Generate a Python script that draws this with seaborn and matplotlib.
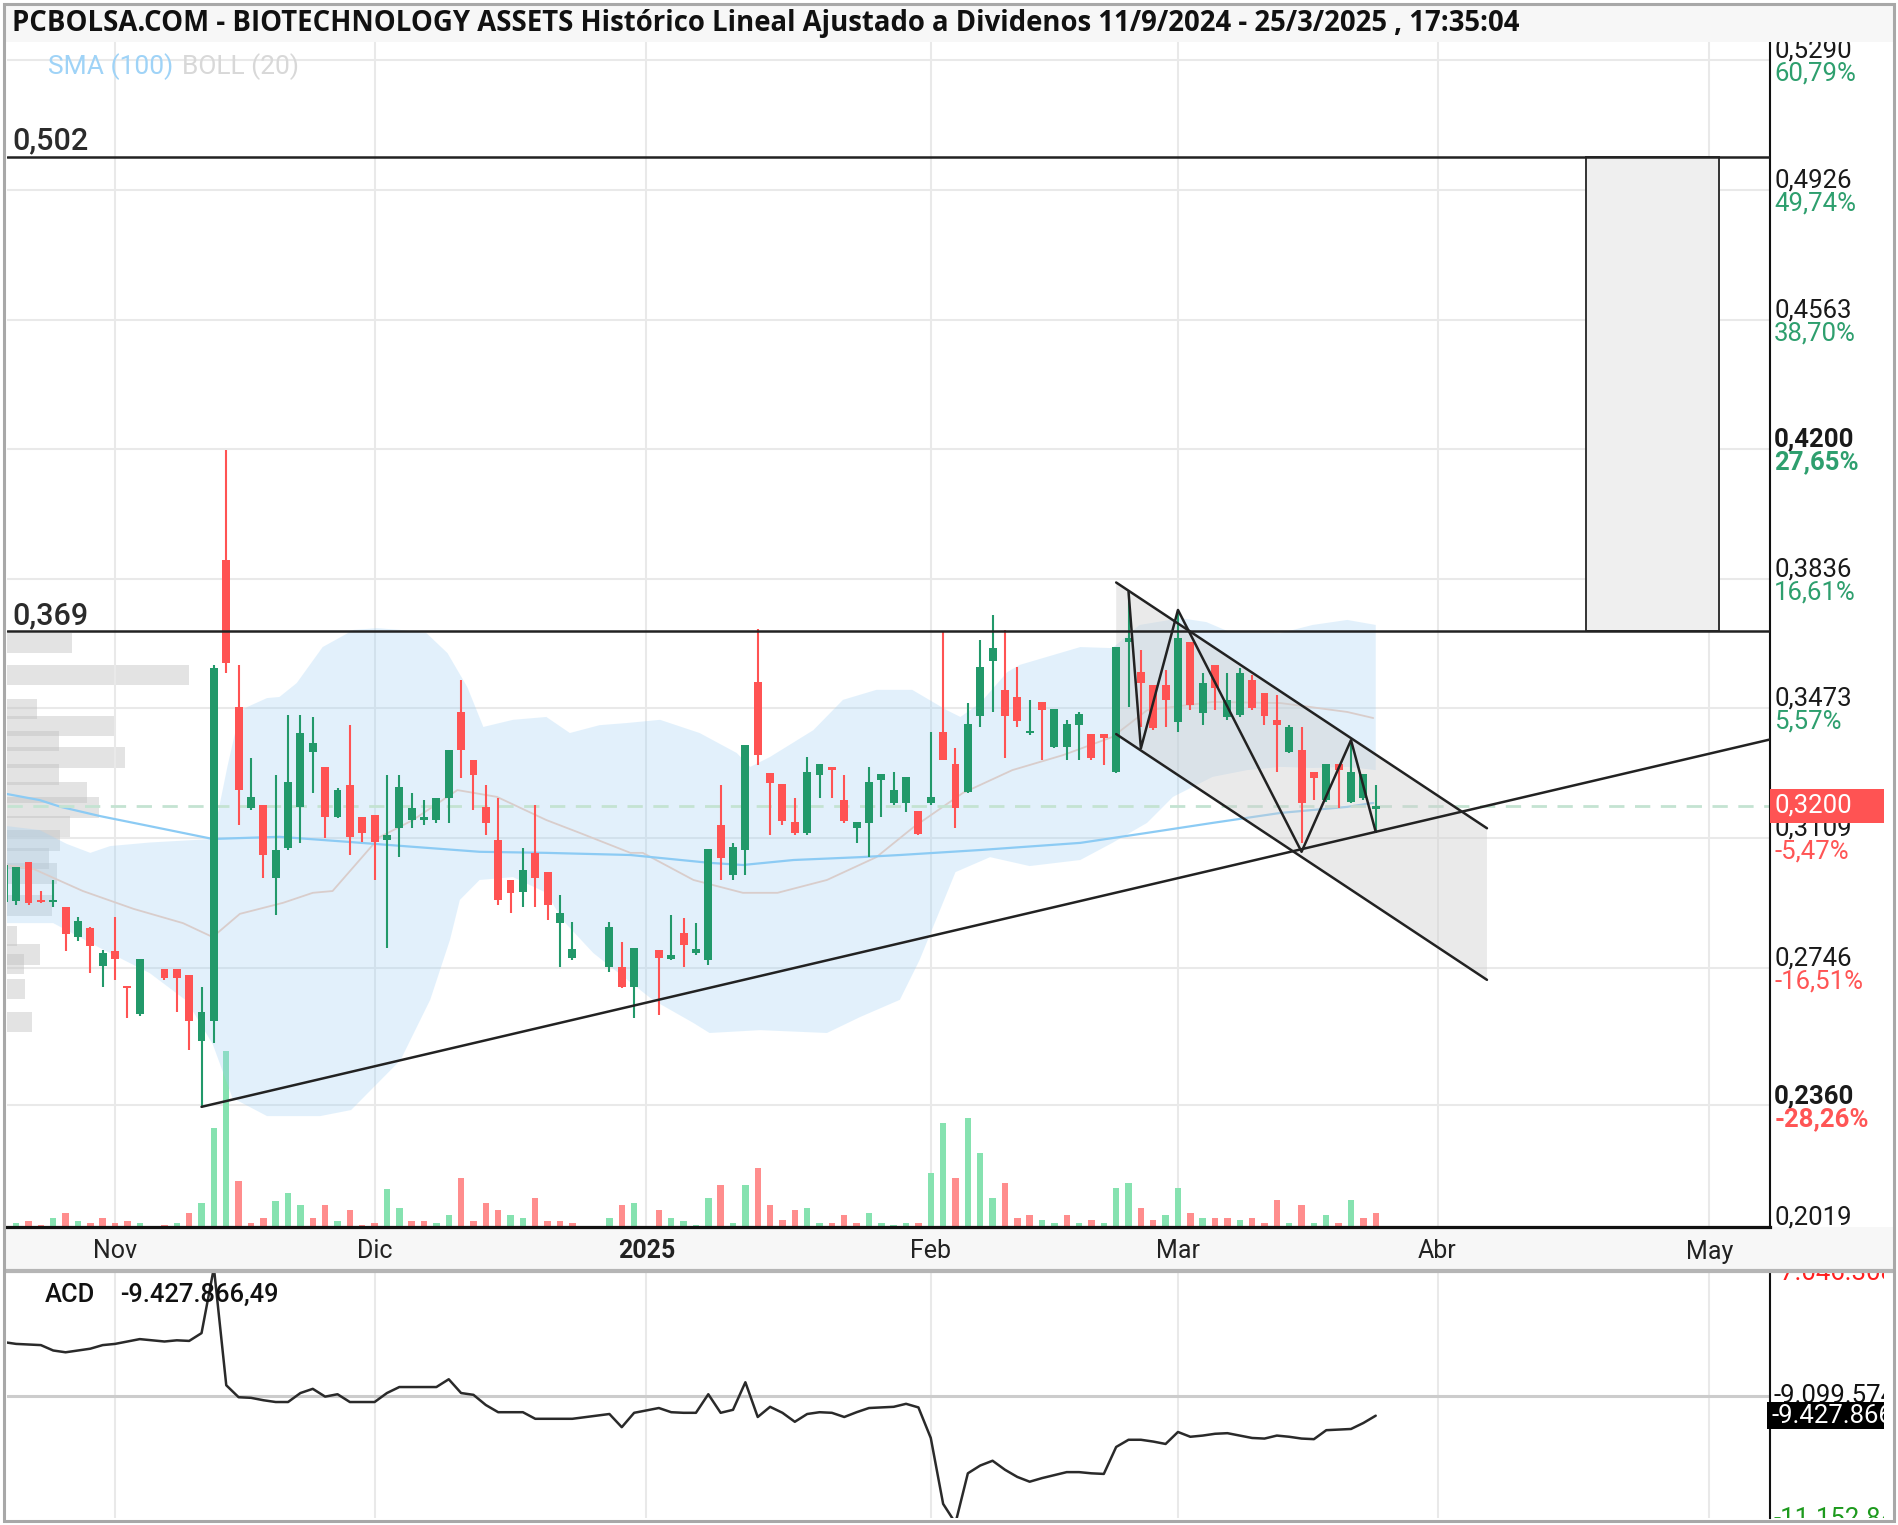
import numpy as np
import pandas as pd
import matplotlib
matplotlib.use("Agg")
import matplotlib.pyplot as plt
import seaborn as sns
from matplotlib.patches import Rectangle
from matplotlib.lines import Line2D
import matplotlib.transforms as mtransforms

# ------------------------------------------------------------------ data
ORIGIN = "2024-10-22"                      # weekday-slot origin of the x axis
no_trade = ["2024-11-06", "2024-12-25", "2024-12-26", "2025-01-01"]
dates = pd.bdate_range("2024-10-21", "2025-03-25")
dates = dates[~dates.isin(pd.to_datetime(no_trade))]

open_ = [0.2930, 0.2933, 0.3042, 0.2935, 0.2930, 0.2916, 0.2832, 0.2857, 0.2751,
         0.2793, 0.2692, 0.2616, 0.2742, 0.2742,
         0.2726, 0.2541, 0.2596, 0.3889, 0.3477,
         0.3193, 0.3202, 0.2997, 0.3081, 0.3197,
         0.3351, 0.3309, 0.3169, 0.3258, 0.3169,
         0.3174, 0.3104, 0.3137, 0.3160, 0.3160,
         0.3160, 0.3221, 0.3463, 0.3328, 0.3197,
         0.3104, 0.2992, 0.2959, 0.3067, 0.3015,
         0.2871, 0.2773, 0.2749, 0.2749, 0.2693,
         0.2797, 0.2771,
         0.2842, 0.2788, 0.2767, 0.3146, 0.3006,
         0.3076, 0.3548, 0.3293, 0.3261, 0.3155,
         0.3123, 0.3286, 0.3309, 0.3216, 0.3137,
         0.3151, 0.3272, 0.3207, 0.3207, 0.3186,
         0.3207, 0.3408, 0.3317, 0.3239, 0.3451,
         0.3607, 0.3526, 0.3506, 0.3403, 0.3492,
         0.3365, 0.3365, 0.3426, 0.3401, 0.3401,
         0.3296, 0.3660, 0.3576, 0.3538, 0.3538,
         0.3435, 0.3660, 0.3459, 0.3594, 0.3450,
         0.3454, 0.3552, 0.3517, 0.3440, 0.3351,
         0.3356, 0.3295, 0.3216, 0.3317, 0.3211,
         0.3221, 0.3190]
close_ = [0.3034, 0.3027, 0.2927, 0.2930, 0.2935, 0.2841, 0.2877, 0.2807, 0.2787,
          0.2771, 0.2689, 0.2771, 0.2717, 0.2717,
          0.2596, 0.2622, 0.3587, 0.3600, 0.3244,
          0.3225, 0.3062, 0.3076, 0.3267, 0.3404,
          0.3376, 0.3169, 0.3244, 0.3113, 0.3123,
          0.3099, 0.3118, 0.3254, 0.3193, 0.3169,
          0.3221, 0.3356, 0.3356, 0.3286, 0.3151,
          0.2936, 0.2955, 0.3020, 0.2997, 0.2921,
          0.2899, 0.2798, 0.2861, 0.2693, 0.2800,
          0.2772, 0.2781,
          0.2809, 0.2798, 0.3078, 0.3053, 0.3085,
          0.3370, 0.3342, 0.3265, 0.3158, 0.3123,
          0.3295, 0.3317, 0.3300, 0.3158, 0.3155,
          0.3267, 0.3289, 0.3244, 0.3281, 0.3120,
          0.3225, 0.3328, 0.3193, 0.3429, 0.3590,
          0.3641, 0.3451, 0.3438, 0.3408, 0.3468,
          0.3470, 0.3429, 0.3457, 0.3333, 0.3389,
          0.3646, 0.3669, 0.3543, 0.3417, 0.3496,
          0.3669, 0.3482, 0.3545, 0.3529, 0.3496,
          0.3571, 0.3473, 0.3451, 0.3426, 0.3422,
          0.3207, 0.3277, 0.3317, 0.3300, 0.3295,
          0.3289, 0.3200]
high_ = [0.3040, 0.3028, 0.3042, 0.2961, 0.2992, 0.2916, 0.2887, 0.2860, 0.2796,
         0.2887, 0.2692, 0.2771, 0.2742, 0.2742,
         0.2726, 0.2692, 0.3594, 0.4197, 0.3594,
         0.3334, 0.3202, 0.3286, 0.3454, 0.3454,
         0.3449, 0.3309, 0.3250, 0.3426, 0.3169,
         0.3174, 0.3286, 0.3286, 0.3236, 0.3216,
         0.3221, 0.3356, 0.3552, 0.3328, 0.3258,
         0.3221, 0.2992, 0.3081, 0.3202, 0.3015,
         0.2950, 0.2875, 0.2875, 0.2819, 0.2800,
         0.2797, 0.2894,
         0.2884, 0.2870, 0.3078, 0.3258, 0.3095,
         0.3370, 0.3697, 0.3293, 0.3261, 0.3221,
         0.3337, 0.3317, 0.3309, 0.3286, 0.3155,
         0.3309, 0.3289, 0.3295, 0.3281, 0.3186,
         0.3408, 0.3688, 0.3361, 0.3489, 0.3664,
         0.3735, 0.3692, 0.3588, 0.3496, 0.3492,
         0.3470, 0.3440, 0.3463, 0.3401, 0.3401,
         0.3646, 0.3795, 0.3636, 0.3538, 0.3580,
         0.3749, 0.3660, 0.3571, 0.3594, 0.3571,
         0.3585, 0.3566, 0.3517, 0.3510, 0.3426,
         0.3422, 0.3295, 0.3317, 0.3317, 0.3384,
         0.3289, 0.3258]
low_ = [0.2925, 0.2921, 0.2921, 0.2927, 0.2916, 0.2793, 0.2822, 0.2731, 0.2692,
        0.2711, 0.2606, 0.2610, 0.2712, 0.2622,
        0.2516, 0.2356, 0.2536, 0.3572, 0.3146,
        0.3188, 0.2997, 0.2893, 0.3076, 0.3095,
        0.3236, 0.3109, 0.3165, 0.3062, 0.3099,
        0.2992, 0.2801, 0.3057, 0.3137, 0.3146,
        0.3151, 0.3151, 0.3278, 0.3188, 0.3118,
        0.2922, 0.2899, 0.2917, 0.2917, 0.2880,
        0.2748, 0.2767, 0.2735, 0.2688, 0.2604,
        0.2613, 0.2767,
        0.2749, 0.2781, 0.2753, 0.2992, 0.2992,
        0.3006, 0.3313, 0.3118, 0.3146, 0.3118,
        0.3118, 0.3221, 0.3223, 0.3151, 0.3095,
        0.3057, 0.3169, 0.3202, 0.3183, 0.3118,
        0.3202, 0.3328, 0.3137, 0.3235, 0.3421,
        0.3463, 0.3333, 0.3420, 0.3398, 0.3328,
        0.3361, 0.3328, 0.3328, 0.3328, 0.3313,
        0.3291, 0.3478, 0.3421, 0.3412, 0.3421,
        0.3408, 0.3468, 0.3426, 0.3468, 0.3440,
        0.3450, 0.3468, 0.3426, 0.3295, 0.3349,
        0.3095, 0.3216, 0.3211, 0.3193, 0.3207,
        0.3216, 0.3123]
# volume (thousands of shares) and direction of the volume bar (1 = up)
volume = [0, 40, 60, 20, 86, 140, 60, 40, 86,
          40, 60, 40, 20, 40,
          140, 240, 990, 1760, 460,
          40, 86, 260, 340, 217,
          86, 217, 60, 167, 20,
          40, 380, 190, 60, 60,
          40, 117, 490, 60, 240,
          167, 117, 86, 290, 60,
          60, 40, 86, 217, 240,
          167, 86,
          60, 20, 290, 417, 43,
          417, 590, 217, 67, 167,
          190, 43, 43, 117, 43,
          143, 43, 20, 43, 43,
          540, 1040, 493, 1090, 740,
          290, 440, 90, 117, 67,
          43, 117, 43, 67, 43,
          390, 440, 190, 67, 117,
          390, 143, 90, 90, 90,
          67, 90, 43, 267, 43,
          217, 43, 117, 43, 267,
          90, 143]
vol_up = [1, 1, 0, 0, 1, 0, 1, 0, 0,
          0, 0, 1, 0, 1,
          0, 1, 1, 1, 0,
          0, 0, 1, 1, 1,
          0, 0, 1, 0, 0,
          0, 1, 1, 0, 0,
          1, 1, 0, 0, 0,
          0, 1, 1, 0, 0,
          0, 0, 1, 0, 1,
          0, 1,
          1, 1, 1, 0, 1,
          1, 0, 0, 0, 0,
          1, 1, 0, 0, 0,
          1, 1, 1, 1, 0,
          1, 1, 0, 1, 1,
          1, 0, 0, 0, 1,
          1, 0, 1, 0, 1,
          1, 1, 0, 0, 1,
          1, 0, 1, 0, 0,
          1, 0, 0, 0, 1,
          0, 1, 1, 0, 1,
          0, 0]
# ACD indicator (millions)
acd = [-8.20, -8.23, -8.24, -8.25, -8.34, -8.37, -8.34, -8.31, -8.25,
       -8.23, -8.19, -8.15, -8.19, -8.17,
       -8.18, -8.05, -6.96, -8.92, -9.12,
       -9.13, -9.17, -9.20, -9.20, -9.05,
       -8.98, -9.11, -9.07, -9.20, -9.20,
       -9.20, -9.05, -8.95, -8.95, -8.95,
       -8.95, -8.82, -9.05, -9.08, -9.25,
       -9.37, -9.37, -9.37, -9.48, -9.48,
       -9.48, -9.48, -9.40, -9.62, -9.38,
       -9.30, -9.37,
       -9.38, -9.38, -9.07, -9.38, -9.33,
       -8.87, -9.45, -9.28, -9.38, -9.53,
       -9.40, -9.37, -9.38, -9.45, -9.37,
       -9.30, -9.29, -9.28, -9.23, -9.29,
       -9.80, -10.90, -11.22, -10.39, -10.26,
       -10.18, -10.33, -10.45, -10.53, -10.47,
       -10.42, -10.37, -10.37, -10.39, -10.40,
       -9.95, -9.83, -9.83, -9.86, -9.90,
       -9.70, -9.78, -9.76, -9.73, -9.72,
       -9.76, -9.80, -9.81, -9.76, -9.78,
       -9.81, -9.82, -9.67, -9.66, -9.65,
       -9.55, -9.428]

# Bollinger (20) bands and mid line, SMA(100)  (x in weekday slots)
bb_up_x = [-0.74, 1.9, 4.1, 6.0, 7.6, 10.8, 15.9, 17.1, 18.1, 18.7, 20.3, 21.3, 22.7, 24.8,
           27.3, 29.2, 31.1, 33.2, 34.9, 36.5, 37.8, 40.2, 42.9, 44.8, 47.2, 49.4, 52.1,
           55.3, 58.3, 59.4, 61.0, 64.5, 66.9, 69.6, 72.5, 75.3, 76.4, 78.0, 80.2, 81.2,
           86.1, 88.7, 90.9, 94.2, 96.3, 98.2, 102.3, 104.9, 107.7, 110.0]
bb_up = [0.3143, 0.3132, 0.3093, 0.3068, 0.3087, 0.3097, 0.3107, 0.3311, 0.3463, 0.3477,
         0.3502, 0.3505, 0.3544, 0.3645, 0.3693, 0.3698, 0.3693, 0.3684, 0.3628, 0.3533,
         0.3421, 0.3441, 0.3449, 0.3404, 0.3426, 0.3432, 0.3441, 0.3404, 0.3348, 0.3309,
         0.3337, 0.3412, 0.3497, 0.3525, 0.3525, 0.3468, 0.3449, 0.3488, 0.3575, 0.3595,
         0.3645, 0.3642, 0.3707, 0.3726, 0.3715, 0.3687, 0.3684, 0.3707, 0.3721, 0.3707]
bb_lo_x = [-0.74, 3.0, 6.8, 10.8, 13.8, 15.9, 17.5, 20.3, 24.6, 27.1, 31.1, 33.5, 35.1, 35.9,
           37.5, 40.2, 42.9, 44.2, 46.7, 51.5, 54.8, 56.1, 60.2, 65.6, 68.3, 71.5, 73.1,
           76.0, 78.8, 82.0, 86.1, 88.7, 91.5, 93.6, 96.8, 99.6, 102.3, 104.9, 107.7, 110.0]
bb_lo = [0.2871, 0.2871, 0.2801, 0.2731, 0.2653, 0.2532, 0.2381, 0.2330, 0.2330, 0.2347,
         0.2487, 0.2656, 0.2824, 0.2936, 0.2992, 0.3000, 0.2956, 0.2880, 0.2787, 0.2656,
         0.2591, 0.2563, 0.2571, 0.2563, 0.2608, 0.2656, 0.2768, 0.3014, 0.3056, 0.3031,
         0.3048, 0.3096, 0.3152, 0.3225, 0.3281, 0.3300, 0.3309, 0.3306, 0.3309, 0.3300]
bb_mid_x = [-0.74, 1.4, 5.4, 9.5, 13.5, 15.9, 18.1, 21.6, 24.0, 25.6, 29.4, 32.1, 35.7, 38.9,
            42.9, 45.6, 49.7, 50.7, 54.8, 58.8, 61.6, 65.6, 69.6, 72.6, 76.6, 80.6, 84.7,
            88.7, 91.5, 96.8, 102.3, 107.7, 109.8]
bb_mid = [0.3033, 0.3023, 0.2961, 0.2911, 0.2871, 0.2832, 0.2897, 0.2928, 0.2956, 0.2961,
          0.3112, 0.3160, 0.3244, 0.3225, 0.3160, 0.3124, 0.3068, 0.3068, 0.2992, 0.2956,
          0.2956, 0.2992, 0.3056, 0.3140, 0.3236, 0.3300, 0.3342, 0.3393, 0.3468, 0.3491,
          0.3488, 0.3463, 0.3446]
sma100_x = [-0.74, 1.9, 3.6, 6.8, 10.8, 15.9, 21.3, 26.8, 32.1, 37.5, 42.9, 49.7, 56.1, 58.8,
            62.9, 68.3, 71.5, 78.0, 86.1, 91.5, 96.8, 102.3, 107.7, 109.8]
sma100 = [0.3233, 0.3216, 0.3197, 0.3171, 0.3143, 0.3107, 0.3113, 0.3099, 0.3085, 0.3071,
          0.3068, 0.3062, 0.3040, 0.3034, 0.3048, 0.3056, 0.3062, 0.3076, 0.3096, 0.3124,
          0.3152, 0.3180, 0.3197, 0.3208]

# volume-by-price profile
prof_price = [0.3656, 0.3567, 0.3471, 0.3424, 0.3382, 0.3336, 0.3287, 0.3237, 0.3195, 0.3142,
              0.3102, 0.3052, 0.3011, 0.2920, 0.2835, 0.2784, 0.2756, 0.2686, 0.2594]
prof_vol = [65, 182, 30, 108, 52, 118, 52, 80, 92, 63, 53, 42, 50, 45, 10, 33, 17, 18, 25]

# price-axis labels
axis_vals = [0.5290, 0.4926, 0.4563, 0.4200, 0.3836, 0.3473, 0.3109, 0.2746, 0.2360, 0.2019]
axis_pct = ["60,79%", "49,74%", "38,70%", "27,65%", "16,61%", "5,57%", "-5,47%", "-16,51%",
            "-28,26%", ""]
axis_bold = [False, False, False, True, False, False, False, False, True, False]
last_price = 0.3200

month_starts = ["2024-11-01", "2024-12-01", "2025-01-01", "2025-02-01", "2025-03-01",
                "2025-04-01", "2025-05-01"]
month_labels = ["Nov", "Dic", "2025", "Feb", "Mar", "Abr", "May"]

# drawings
levels = [0.502, 0.369]
support = [("2024-11-12", 0.2356), ("2025-03-25", 0.3127)]
chan_x = [89, 119]
chan_upper = [0.3826, 0.3137]
chan_lower = [0.3401, 0.2712]
zig_x = [90, 91, 94, 104, 108, 110]
zig_y = [0.3800, 0.3361, 0.3749, 0.3071, 0.3384, 0.3127]
target_x = [127, 137.75]
target_y = [0.369, 0.502]

acd_axis = [-7.0462, -9.0995, -11.1528]
acd_axis_txt = ["-7.046.308", "-9.099.574", "-11.152.840"]
acd_last = -9.427866

TITLE = ("PCBOLSA.COM - BIOTECHNOLOGY ASSETS Histórico Lineal Ajustado a Dividenos "
         "11/9/2024 - 25/3/2025 , 17:35:04")

# ------------------------------------------------------------------ style
sns.set_theme(style="white")
plt.rcParams["font.family"] = ["Roboto", "DejaVu Sans"]

GREEN, RED = "#22996a", "#ff5353"
VGREEN, VRED = "#86e2b0", "#ff8d8d"
W, H = 1898, 1525
LAB = 18.5


def fbox(x0, y0, x1, y1):
    return [x0 / W, 1 - y1 / H, (x1 - x0) / W, (y1 - y0) / H]


def dec(v, n=4):
    return f"{v:.{n}f}".replace(".", ",")


fig = plt.figure(figsize=(W / 100, H / 100), dpi=100)
fig.patch.set_facecolor("white")

MAIN = (7, 42, 1770, 1227)
ACDP = (7, 1272, 1770, 1518)
XLIM = (-0.74, 141.9)
YLIM = (0.20191, 0.53413)

ax_main = fig.add_axes(fbox(*MAIN))
ax_vol = fig.add_axes(fbox(*MAIN), sharex=ax_main)
ax_prof = fig.add_axes(fbox(*MAIN), sharey=ax_main)
ax_prof.set_zorder(1)
ax_vol.set_zorder(2)
ax_main.set_zorder(3)
ax_main.patch.set_visible(False)
ax_vol.patch.set_visible(False)
ax_prof.patch.set_facecolor("white")

x = np.busday_count(ORIGIN, dates.values.astype("datetime64[D]"))
ticks = np.busday_count(ORIGIN, np.array(month_starts, dtype="datetime64[D]"))
o, c, h, l = map(np.array, (open_, close_, high_, low_))
assert len(o) == len(c) == len(h) == len(l) == len(x) == len(volume) == len(vol_up) == len(acd)

ax_main.set_xlim(*XLIM)
ax_main.set_ylim(*YLIM)

# -- background layer: horizontal grid + volume profile
for v in axis_vals:
    ax_prof.axhline(v, color="#e9e9e9", lw=1.5, zorder=0)
ax_prof.barh(prof_price, prof_vol, height=0.0058, left=0, color="#bdbdbd", alpha=0.42,
             linewidth=0, zorder=1)
ax_prof.set_xlim(0, max(prof_vol) / 0.1032)
ax_prof.axis("off")

# -- volume layer
for t in ticks:
    ax_vol.axvline(t, color="#e9e9e9", lw=1.5, zorder=0)
vcol = np.where(np.array(vol_up) == 1, VGREEN, VRED)
ax_vol.bar(x, volume, width=0.52, color=vcol, linewidth=0, zorder=2)
ax_vol.set_ylim(0, max(volume) / 0.1483)
ax_vol.axis("off")

# -- main layer
ax_main.fill(np.r_[bb_up_x, bb_lo_x[::-1]], np.r_[bb_up, bb_lo[::-1]],
             color="#9fd0f5", alpha=0.30, lw=0, zorder=1)
sns.lineplot(x=bb_mid_x, y=bb_mid, ax=ax_main, color="#d9cdcb", lw=1.3, sort=False,
             estimator=None, zorder=2)
sns.lineplot(x=sma100_x, y=sma100, ax=ax_main, color="#8ccbf4", lw=1.6, sort=False,
             estimator=None, zorder=2)
ax_main.axhline(last_price, color="#c4e3d2", lw=2.0, ls=(0, (5.5, 3.8)), zorder=2)

ax_main.fill([chan_x[0], chan_x[1], chan_x[1], chan_x[0]],
             [chan_upper[0], chan_upper[1], chan_lower[1], chan_lower[0]],
             color="#cfcfcf", alpha=0.42, lw=0, zorder=3)
ax_main.add_patch(Rectangle((target_x[0], target_y[0]), target_x[1] - target_x[0],
                            target_y[1] - target_y[0], fc="#efefef", ec="#333333",
                            lw=1.4, zorder=3))

up = c >= o
ccol = np.where(up, GREEN, RED)
ax_main.vlines(x, l, h, colors=ccol, lw=1.5, zorder=5)
body = np.maximum(np.abs(c - o), 0.0007)
ax_main.bar(x, body, bottom=np.minimum(o, c), width=0.64, color=ccol, linewidth=0, zorder=6)

for lv in levels:
    ax_main.axhline(lv, color="#222222", lw=1.8, zorder=7)
    ax_main.annotate(dec(lv, 3), xy=(0.0028, lv), xycoords=("axes fraction", "data"),
                     xytext=(0, 5), textcoords="offset points", ha="left", va="baseline",
                     fontsize=22, color="#2b2b2b", fontweight="medium", zorder=8)

s_x = np.busday_count(ORIGIN, np.array([support[0][0], support[1][0]], dtype="datetime64[D]"))
slope = (support[1][1] - support[0][1]) / (s_x[1] - s_x[0])
ax_main.plot([s_x[0], XLIM[1]], [support[0][1], support[0][1] + slope * (XLIM[1] - s_x[0])],
             color="#222222", lw=1.8, zorder=7)
ax_main.plot(chan_x, chan_upper, color="#222222", lw=1.8, zorder=7)
ax_main.plot(chan_x, chan_lower, color="#222222", lw=1.8, zorder=7)
ax_main.plot(zig_x, zig_y, color="#222222", lw=1.8, zorder=7)

ax_main.set_xticks(ticks)
ax_main.set_xticklabels(month_labels, fontsize=18, color="#222222")
ax_main.get_xticklabels()[2].set_fontweight("bold")
ax_main.tick_params(axis="x", length=0, pad=9)
ax_main.set_yticks([])
for s in ("left", "top"):
    ax_main.spines[s].set_visible(False)
ax_main.spines["right"].set_color("#111111")
ax_main.spines["right"].set_linewidth(1.5)
ax_main.spines["bottom"].set_color("#111111")
ax_main.spines["bottom"].set_linewidth(2.3)
ax_main.set_xlabel("")
ax_main.set_ylabel("")

trans = mtransforms.blended_transform_factory(ax_main.transAxes, ax_main.transData)
for v, p, b in zip(axis_vals, axis_pct, axis_bold):
    fw = "bold" if b else "normal"
    ax_main.annotate(dec(v), xy=(1, v), xycoords=trans, xytext=(3, 1.8),
                     textcoords="offset points", ha="left", va="baseline", fontsize=LAB,
                     color="#1a1a1a", fontweight=fw, annotation_clip=False)
    if p:
        pc = "#2e9f6e" if not p.startswith("-") else "#ff5555"
        ax_main.annotate(p, xy=(1, v), xycoords=trans, xytext=(3, -14.8),
                         textcoords="offset points", ha="left", va="baseline",
                         fontsize=LAB, color=pc, fontweight=fw, annotation_clip=False)
box_h = 0.0048
ax_main.add_patch(Rectangle((1.0, last_price - box_h), 0.0647, 2 * box_h, transform=trans,
                            fc="#ff5353", ec="none", clip_on=False, zorder=9))
ax_main.annotate(dec(last_price), xy=(1, last_price), xycoords=trans, xytext=(3, 0),
                 textcoords="offset points", ha="left", va="center", fontsize=LAB,
                 color="white", annotation_clip=False, zorder=10)

ax_main.text(0.0233, 0.9795, "SMA (100)", transform=ax_main.transAxes, fontsize=19,
             color="#9fd3f7", va="center", ha="left")
ax_main.text(0.0990, 0.9795, "BOLL (20)", transform=ax_main.transAxes, fontsize=19,
             color="#d8d8d8", va="center", ha="left")

# -- ACD panel
ax_acd = fig.add_axes(fbox(*ACDP))
ax_acd.set_xlim(*XLIM)
ax_acd.set_ylim(-11.1357, -7.0299)
for t in ticks:
    ax_acd.axvline(t, color="#e9e9e9", lw=1.5, zorder=0)
ax_acd.axhline(acd_axis[1], color="#cccccc", lw=2.2, zorder=0)
sns.lineplot(x=x, y=acd, ax=ax_acd, color="#2a2a2a", lw=1.8, sort=False, estimator=None,
             zorder=3)
ax_acd.set_xticks([])
ax_acd.set_yticks([])
ax_acd.set_xlabel("")
ax_acd.set_ylabel("")
for s in ("left", "top", "bottom"):
    ax_acd.spines[s].set_visible(False)
ax_acd.spines["right"].set_color("#111111")
ax_acd.spines["right"].set_linewidth(1.5)
ax_acd.text(38 / 1763, 0.9065, "ACD", transform=ax_acd.transAxes, fontsize=18.4,
            color="#111111", va="center", fontweight="medium")
ax_acd.text(113 / 1763, 0.9065, "-9.427.866,49", transform=ax_acd.transAxes, fontsize=18.4,
            color="#111111", va="center", fontweight="medium")

ax_al = fig.add_axes(fbox(1762, 1272, 1884, 1518))
ax_al.set_xlim(0, 1)
ax_al.set_ylim(-11.1357, -7.0299)
ax_al.axis("off")
acd_cols = ["#ff1f1f", "#111111", "#1d9a1d"]
for v, t, col in zip(acd_axis, acd_axis_txt, acd_cols):
    ax_al.text(12 / 122, v, t, color=col, fontsize=LAB, va="center", ha="left", clip_on=True)
ax_al.add_patch(Rectangle((5 / 122, acd_last - 0.225), 1, 0.45, fc="black", ec="none",
                          zorder=4))
ax_al.text(10 / 122, acd_last, "-9.427.866,49", color="white", fontsize=LAB, va="center",
           ha="left", clip_on=True, zorder=5)

# -- chrome: title bar, date bar, separators, frame
fig.add_artist(Rectangle((5 / W, 1 - 1270 / H), 1888 / W, 43 / H, transform=fig.transFigure,
                         fc="#f7f7f7", ec="none", zorder=-1))
fig.add_artist(Line2D([5 / W, 1893 / W], [1 - 1270.5 / H] * 2, transform=fig.transFigure,
                      color="#b5b5b5", lw=3.0, zorder=20))
fig.add_artist(Rectangle((4 / W, 1 - 42 / H), 1889 / W, 38 / H, transform=fig.transFigure,
                         fc="#f7f7f7", ec="none", zorder=20))
fig.text(12 / W, 1 - 23 / H, TITLE, fontsize=19.8, fontweight="bold", family="Open Sans",
         color="#111111", va="center", ha="left", zorder=21)
fig.add_artist(Rectangle((3.5 / W, 1 - 1521 / H), 1890 / W, 1517.5 / H,
                         transform=fig.transFigure, fill=False, ec="#a8a8a8", lw=2.2, zorder=25))

fig.savefig("out.png", dpi=100, facecolor="white")
